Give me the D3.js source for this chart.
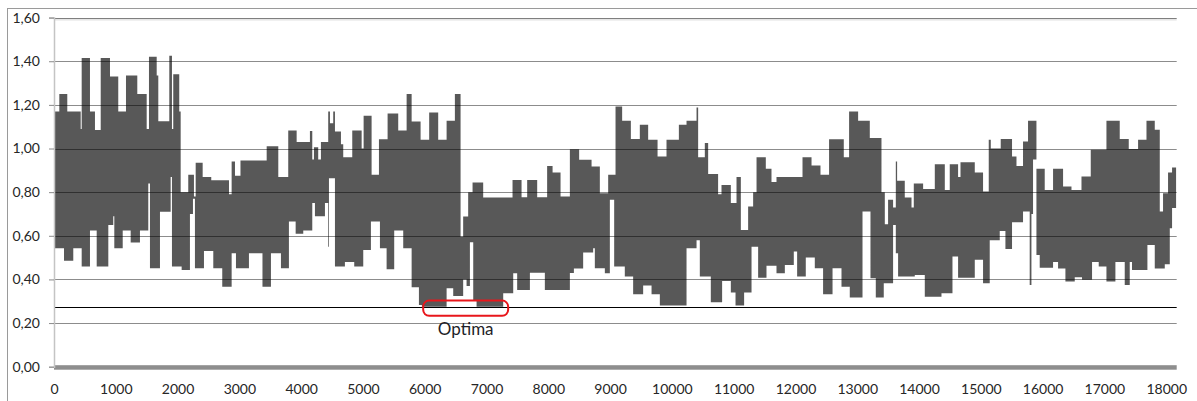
<!DOCTYPE html>
<html><head><meta charset="utf-8">
<script src="https://cdn.jsdelivr.net/npm/d3@7"></script>
<style>
html,body{margin:0;padding:0;background:#fff;}
svg{display:block;font-family:Lato,"Open Sans",sans-serif;}
</style></head>
<body>
<svg id="c" width="1197" height="401"></svg>
<script>
// ---- data ----
const yTicks = [0, 0.2, 0.4, 0.6, 0.8, 1.0, 1.2, 1.4, 1.6];
const xTicks = [0,1000,2000,3000,4000,5000,6000,7000,8000,9000,10000,11000,12000,13000,14000,15000,16000,17000,18000];
const optimumLevel = 0.274;
const optimaLabel = "Optima";
const xEnd = 18160;

// upper envelope (step starts, values)
const hiX = [0,86,215,432,448,582,663,756,906,1040,
1165,1348,1500,1537,1662,1688,1866,1909,1930,2027,
2050,2173,2265,2293,2406,2545,2832,2875,2929,3018,
3442,3630,3791,3927,4142,4180,4207,4276,4320,4438,
4466,4519,4547,4644,4681,4827,4979,5011,5140,5259,
5399,5571,5707,5788,5933,6072,6218,6354,6488,6580,
6622,6703,6774,6946,7421,7567,7658,7820,7981,8069,
8198,8349,8499,8700,8834,8969,9088,9195,9336,9481,
9616,9768,9913,10113,10237,10399,10425,10533,10587,10748,
10803,10954,11046,11116,11234,11315,11370,11520,11612,11693,
12114,12260,12405,12544,12782,12868,13014,13203,13392,13446,
13499,13580,13624,13645,13769,13878,13915,14066,14255,14417,
14497,14632,14671,14902,15036,15128,15161,15322,15505,15577,
15683,15764,15900,16034,16169,16331,16467,16629,16779,17033,
17248,17394,17545,17681,17815,17896,17949,18030,18095];
const hiY = [1.17,1.25,1.17,1.09,1.415,1.17,1.085,1.415,1.33,1.17,
1.335,1.25,1.09,1.42,1.335,1.125,1.425,1.09,1.34,1.17,
0.80,0.88,0.78,0.935,0.87,0.855,0.79,0.94,0.875,0.945,
1.01,0.87,1.083,1.03,1.08,0.95,1.006,0.95,1.03,1.17,
1.116,1.17,1.078,1.02,0.96,1.083,1.0,1.15,0.88,1.043,
1.16,1.083,1.25,1.124,1.04,1.165,1.04,1.127,1.25,0.596,
0.688,0.80,0.844,0.775,0.856,0.777,0.856,0.777,0.92,0.89,
0.78,0.997,0.948,0.917,0.795,0.88,1.193,1.127,1.044,1.109,
1.04,0.963,1.04,1.109,1.127,1.188,0.96,1.025,0.883,0.79,
0.833,0.75,0.87,0.627,0.734,0.80,0.96,0.907,0.846,0.87,
0.96,0.922,0.88,1.043,0.96,1.17,1.127,1.048,0.80,0.653,
0.765,0.73,0.94,0.852,0.775,0.73,0.84,0.815,0.928,0.81,
0.928,0.87,0.937,0.89,0.803,1.04,1.00,1.044,0.963,0.92,
1.032,1.127,0.907,0.81,0.907,0.826,0.81,0.872,0.994,1.127,
1.044,0.998,1.04,1.127,1.086,0.711,0.795,0.89,0.913];

// lower envelope (step starts, values)
const loX = [0,162,312,448,582,691,879,959,976,1112,
1241,1391,1526,1553,1715,1888,1909,2066,2200,2249,
2281,2427,2578,2723,2875,2945,3155,3374,3511,3673,
3802,3911,4034,4180,4223,4385,4438,4450,4547,4708,
4859,5005,5129,5275,5383,5506,5652,5788,5906,5954,
6354,6461,6622,6677,6731,6785,6839,7270,7432,7496,
7702,7944,8349,8414,8564,8726,8753,8915,8996,9066,
9238,9373,9535,9671,9805,10237,10399,10452,10630,10813,
10954,11030,11169,11289,11396,11531,11693,11828,11973,12027,
12167,12313,12447,12600,12745,12879,13085,13214,13300,13429,
13580,13624,13661,13931,14093,14363,14541,14632,14902,15036,
15144,15306,15398,15505,15683,15791,15819,15845,15900,15953,
16169,16250,16369,16520,16638,16800,16908,17033,17178,17329,
17410,17447,17696,17815,17977,18058,18095];
const loY = [0.543,0.486,0.543,0.459,0.624,0.459,0.65,0.69,0.543,0.624,
0.569,0.624,0.84,0.451,0.71,0.87,0.459,0.443,0.70,0.77,
0.451,0.53,0.451,0.367,0.52,0.451,0.52,0.367,0.52,0.451,
0.665,0.609,0.624,0.75,0.69,0.75,0.55,0.864,0.459,0.48,
0.459,0.535,0.665,0.543,0.447,0.624,0.543,0.364,0.283,0.275,
0.36,0.324,0.40,0.37,0.57,0.306,0.275,0.337,0.428,0.352,
0.431,0.352,0.43,0.45,0.523,0.543,0.451,0.428,0.765,0.459,
0.413,0.332,0.372,0.332,0.28,0.543,0.58,0.413,0.295,0.393,
0.34,0.28,0.34,0.55,0.408,0.463,0.428,0.466,0.528,0.413,
0.50,0.451,0.332,0.451,0.367,0.317,0.711,0.405,0.317,0.383,
0.65,0.52,0.413,0.42,0.321,0.337,0.505,0.408,0.49,0.383,
0.58,0.622,0.54,0.662,0.711,0.375,0.70,0.95,0.512,0.454,
0.48,0.45,0.39,0.41,0.398,0.48,0.459,0.39,0.48,0.375,
0.48,0.443,0.558,0.45,0.47,0.635,0.727];

// ---- chart ----
const svg = d3.select("#c");
const W = 1197, H = 401;
const x = d3.scaleLinear().domain([0, 18170]).range([54, 1176.7]);
const y = d3.scaleLinear().domain([0, 1.6]).range([366.7, 17.6]);

// outer frame
svg.append("line").attr("x1",7.5).attr("x2",7.5).attr("y1",8).attr("y2",H).attr("stroke","#9a9a9a");
svg.append("line").attr("x1",7).attr("x2",W).attr("y1",8.5).attr("y2",8.5).attr("stroke","#9a9a9a");

// merged band
const allX = Array.from(new Set(hiX.concat(loX))).sort((a,b)=>a-b);
const stepVal = (xs, ys, v) => ys[Math.max(0, d3.bisectRight(xs, v) - 1)];
const band = allX.map(v => ({x: v, hi: stepVal(hiX, hiY, v), lo: stepVal(loX, loY, v)}));
band.push({x: xEnd, hi: hiY[hiY.length-1], lo: loY[loY.length-1]});

// top light strip
svg.append("rect").attr("x", x(0)).attr("y", y(1.6)+0.5).attr("width", x.range()[1]-x(0)).attr("height", 2.5).attr("fill","#e6e6e6");

const area = d3.area().x(d => x(d.x)).y0(d => y(d.lo)).y1(d => y(d.hi)).curve(d3.curveStepAfter);
svg.append("path").datum(band).attr("d", area).attr("fill", "#585858");

// gridlines (on top, translucent)
svg.append("g").selectAll("line").data(yTicks.filter(t => t > 0)).join("line")
  .attr("x1", x(0)).attr("x2", x.range()[1])
  .attr("y1", d => Math.round(y(d)) + 0.5).attr("y2", d => Math.round(y(d)) + 0.5)
  .attr("stroke", "rgba(0,0,0,0.45)").attr("stroke-width", 1);

// optimum threshold
svg.append("line").attr("x1", x(0)).attr("x2", x.range()[1])
  .attr("y1", Math.round(y(optimumLevel))+0.5).attr("y2", Math.round(y(optimumLevel))+0.5)
  .attr("stroke", "#000").attr("stroke-width", 1);

// bottom floor band
svg.append("rect").attr("x", x(0)).attr("y", y(0) - 1.5).attr("width", x.range()[1]-x(0)).attr("height", 4.5).attr("fill", "#8e8e8e");

// y axis
const yAxis = d3.axisLeft(y).tickValues(yTicks).tickSize(5).tickPadding(9)
  .tickFormat(d => d.toFixed(2).replace(".", ","));
const gy = svg.append("g").attr("transform", `translate(${x(0)},0)`).call(yAxis);
gy.select(".domain").attr("stroke", "#c4c4c4").attr("stroke-width", 1.5);
gy.selectAll(".tick line").attr("stroke", "#8a8a8a");
gy.selectAll("text").attr("font-size", 14).attr("fill", "#262626").attr("font-family", "Lato, sans-serif");

// x axis
const xAxis = d3.axisBottom(x).tickValues(xTicks).tickSize(0).tickFormat(d3.format("d"));
const gx = svg.append("g").attr("transform", `translate(0,${y(0)})`).call(xAxis);
gx.select(".domain").remove();
gx.selectAll("text").attr("dy", null).attr("y", 394 - y(0))
  .attr("font-size", 14).attr("fill", "#262626").attr("font-family", "Lato, sans-serif");

// optima annotation
const bx0 = x(5975), bx1 = x(7350), by0 = y(0.303), by1 = y(0.233);
svg.append("rect").attr("x", bx0).attr("y", by0).attr("width", bx1 - bx0).attr("height", by1 - by0)
  .attr("rx", 6).attr("ry", 6).attr("fill", "none").attr("stroke", "#e8161b").attr("stroke-width", 2);
svg.append("text").attr("x", x(6663)).attr("y", 334.5).attr("text-anchor", "middle")
  .attr("font-size", 17).attr("fill", "#1e1e28").attr("font-family", "Lato, sans-serif").text(optimaLabel);
</script>
</body></html>
